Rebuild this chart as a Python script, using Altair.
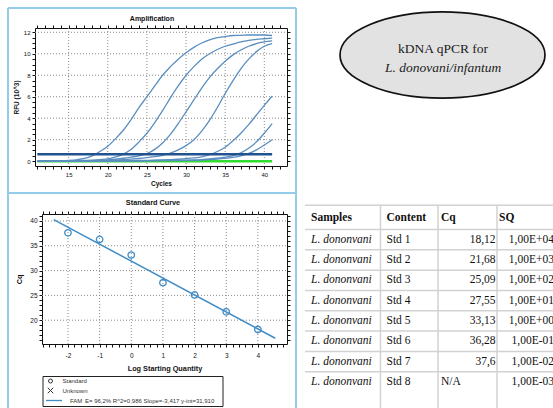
import altair as alt
import pandas as pd

W, H = 553, 408

# ---------------- data ----------------
cycles = list(range(11, 42))
rfu_std1 = [0.0, 0.0, 0.02, 0.04, 0.07, 0.13, 0.25, 0.5, 0.9, 1.4, 2.1, 2.9, 3.9, 5.0, 6.0, 7.0,
            8.0, 8.8, 9.5, 10.1, 10.6, 11.0, 11.3, 11.5, 11.6, 11.7, 11.72, 11.75, 11.75, 11.75, 11.7]
rfu_std2 = [0.0, 0.0, 0.0, 0.01, 0.02, 0.04, 0.07, 0.1, 0.15, 0.22, 0.4, 0.65, 1.1, 1.8, 2.6, 3.6,
            4.7, 5.9, 7.0, 8.0, 8.8, 9.5, 10.0, 10.4, 10.7, 10.9, 11.1, 11.25, 11.35, 11.4, 11.45]
rfu_std3 = [0.0, 0.0, 0.0, 0.0, 0.01, 0.02, 0.03, 0.05, 0.08, 0.12, 0.18, 0.27, 0.38, 0.5, 0.7, 1.1,
            1.7, 2.5, 3.5, 4.6, 5.7, 6.8, 7.8, 8.6, 9.3, 9.9, 10.35, 10.7, 10.95, 11.1, 11.2]
rfu_std4 = [0.0, 0.0, 0.0, 0.0, 0.0, 0.01, 0.02, 0.03, 0.05, 0.07, 0.1, 0.14, 0.19, 0.25, 0.33, 0.42,
            0.55, 0.75, 1.05, 1.45, 2.0, 2.8, 3.8, 5.0, 6.3, 7.5, 8.6, 9.5, 10.2, 10.7, 10.95]
rfu_std5 = [0.0, 0.0, 0.0, 0.0, 0.0, 0.0, 0.0, 0.01, 0.02, 0.03, 0.03, 0.04, 0.05, 0.06, 0.07, 0.09,
            0.11, 0.14, 0.18, 0.23, 0.3, 0.4, 0.6, 0.9, 1.3, 1.9, 2.6, 3.4, 4.3, 5.2, 6.05]
rfu_std6 = [0.0, 0.0, 0.0, 0.0, 0.0, 0.0, 0.0, 0.0, 0.01, 0.01, 0.02, 0.02, 0.03, 0.04, 0.05, 0.06,
            0.07, 0.08, 0.09, 0.1, 0.12, 0.15, 0.2, 0.27, 0.37, 0.52, 0.78, 1.2, 1.8, 2.6, 3.5]
rfu_std7 = [0.0, 0.0, 0.0, 0.0, 0.0, 0.0, 0.0, 0.0, 0.0, 0.01, 0.01, 0.02, 0.02, 0.03, 0.03, 0.04,
            0.05, 0.05, 0.06, 0.07, 0.08, 0.1, 0.14, 0.19, 0.26, 0.36, 0.5, 0.72, 1.05, 1.5, 2.0]
curve_names = ["Std 1", "Std 2", "Std 3", "Std 4", "Std 5", "Std 6", "Std 7"]
curve_values = [rfu_std1, rfu_std2, rfu_std3, rfu_std4, rfu_std5, rfu_std6, rfu_std7]

threshold_cycles = [11, 41]
threshold_rfu = [0.65, 0.65]
ntc_cycles = [11, 41]
ntc_rfu = [0.0, 0.0]

amp_x_ticks = [15, 20, 25, 30, 35, 40]
amp_y_ticks = [0, 2, 4, 6, 8, 10, 12]
amp_minor_x = list(range(11, 43))
amp_minor_y = [i / 2 for i in range(0, 25)]

log_sq = [4, 3, 2, 1, 0, -1, -2]
cq_std = [18.12, 21.68, 25.09, 27.55, 33.13, 36.28, 37.6]
fit_log = [-2.45, 4.55]
fit_cq = [40.28, 16.36]
std_x_ticks = [-2, -1, 0, 1, 2, 3, 4]
std_y_ticks = [20, 25, 30, 35, 40]
std_minor_x = [round(-2.8 + 0.2 * i, 1) for i in range(39)]
std_minor_y = list(range(16, 42))
legend_text = "E= 96,2% R^2=0,986 Slope=-3,417 y-int=31,910"

table_headers = ["Samples", "Content", "Cq", "SQ"]
table_samples = ["L. dononvani"] * 8
table_contents = ["Std 1", "Std 2", "Std 3", "Std 4", "Std 5", "Std 6", "Std 7", "Std 8"]
table_cq = ["18,12", "21,68", "25,09", "27,55", "33,13", "36,28", "37,6", "N/A"]
table_sq = ["1,00E+04", "1,00E+03", "1,00E+02", "1,00E+01", "1,00E+00", "1,00E-01", "1,00E-02", "1,00E-03"]

# ---------------- layout / style ----------------
AMP_X = ([10.7, 42.9], [35, 287])
AMP_Y = ([-0.45, 12.4], [166, 28])
STD_X = ([-2.82, 4.92], [42, 287])
STD_Y = ([15.2, 41.4], [344, 214])
TAB_Y = ([0, 8], [229.5, 392])

FRAME = "#93cbe9"
CURVE = "#5a8ec0"
THRESH = "#22528f"
STDBLUE = "#3f8cc6"
GRID = "#8a8a8a"
SANS = "Liberation Sans"
SERIF = "Liberation Serif"


def S(domain, rng):
    return alt.Scale(domain=domain, range=rng, nice=False, zero=False)


def axis(orient, offset, values, label_expr=None, title=None, size=6.5, title_size=7,
         label_pad=2, title_pad=3):
    kw = dict(orient=orient, offset=offset, values=values, domainColor="#111", domainWidth=1,
              tickColor="#111", tickSize=3, tickWidth=1, labelFont=SANS, labelColor="#111",
              labelOverlap=False, labelFlush=False, grid=False, labelFontSize=size,
              labelPadding=label_pad)
    if label_expr is None:
        kw["labels"] = False
    else:
        kw["labelExpr"] = label_expr
    if title:
        kw.update(title=title, titleFont=SANS, titleFontSize=title_size, titleFontWeight="bold",
                  titleColor="#111", titlePadding=title_pad)
    else:
        kw["title"] = None
    return alt.Axis(**kw)


def one(text):
    return pd.DataFrame({"t": [text]})


layers = []

# blue panel frames
for (x1, x2, y1, y2) in [(8, 296, 8, 8), (8, 296, 193, 193), (8, 8, 8, 410), (296, 296, 8, 410)]:
    layers.append(alt.Chart(one("f")).mark_rule(color=FRAME, strokeWidth=2).encode(
        x=alt.value(x1), x2=alt.value(x2), y=alt.value(y1), y2=alt.value(y2)))

# ---------- amplification ----------
amp_df = pd.DataFrame({
    "cycle": cycles * len(curve_names),
    "rfu": [v for vals in curve_values for v in vals],
    "sample": [n for n in curve_names for _ in cycles],
})

layers.append(alt.Chart(pd.DataFrame({"c": amp_x_ticks})).mark_rule(
    color=GRID, strokeDash=[1, 2], strokeWidth=1).encode(
    x=alt.X("c:Q", scale=S(*AMP_X),
            axis=axis("bottom", AMP_Y[1][0] - H, amp_minor_x,
                      "datum.value % 5 === 0 ? '' + datum.value : ''", "Cycles", 6, 6.5, 2, 3)),
    y=alt.YDatum(AMP_Y[0][1], type="quantitative", scale=S(*AMP_Y),
                 axis=axis("left", -AMP_X[1][0], amp_minor_y,
                           "datum.value % 2 === 0 ? '' + datum.value : ''", "RFU (10^3)", 6, 6.5, 2, 4)),
    y2=alt.Y2Datum(AMP_Y[0][0]),
))
layers.append(alt.Chart(pd.DataFrame({"r": amp_y_ticks[1:]})).mark_rule(
    color=GRID, strokeDash=[1, 2], strokeWidth=1).encode(
    y=alt.Y("r:Q", scale=S(*AMP_Y), axis=axis("right", AMP_X[1][1] - W, amp_minor_y)),
    x=alt.XDatum(AMP_X[0][0], type="quantitative", scale=S(*AMP_X),
                 axis=axis("top", -AMP_Y[1][1], amp_minor_x)),
    x2=alt.X2Datum(AMP_X[0][1]),
))
layers.append(alt.Chart(pd.DataFrame({"cycle": ntc_cycles, "rfu": ntc_rfu})).mark_line(
    color="#2fdc2f", strokeWidth=2.5).encode(
    x=alt.X("cycle:Q", scale=S(*AMP_X), axis=None),
    y=alt.Y("rfu:Q", scale=S(*AMP_Y), axis=None)))
layers.append(alt.Chart(amp_df).mark_line(color=CURVE, strokeWidth=1.3, interpolate="monotone").encode(
    x=alt.X("cycle:Q", scale=S(*AMP_X), axis=None),
    y=alt.Y("rfu:Q", scale=S(*AMP_Y), axis=None),
    detail="sample:N"))
layers.append(alt.Chart(pd.DataFrame({"cycle": threshold_cycles, "rfu": threshold_rfu})).mark_line(
    color=THRESH, strokeWidth=2.4).encode(
    x=alt.X("cycle:Q", scale=S(*AMP_X), axis=None),
    y=alt.Y("rfu:Q", scale=S(*AMP_Y), axis=None)))
layers.append(alt.Chart(one("Amplification")).mark_text(
    font=SANS, fontSize=7, fontWeight="bold", color="#111").encode(
    x=alt.value(152), y=alt.value(19), text="t:N"))

# ---------- standard curve ----------
layers.append(alt.Chart(pd.DataFrame({"c": std_x_ticks})).mark_rule(
    color=GRID, strokeDash=[1, 2], strokeWidth=1).encode(
    x=alt.X("c:Q", scale=S(*STD_X),
            axis=axis("bottom", STD_Y[1][0] - H, std_minor_x,
                      "abs(datum.value - round(datum.value)) < 0.001 ? '' + round(datum.value) : ''",
                      "Log Starting Quantity", 6.5, 7.3, 5, 6)),
    y=alt.YDatum(STD_Y[0][1], type="quantitative", scale=S(*STD_Y),
                 axis=axis("left", -STD_X[1][0], std_minor_y,
                           "datum.value % 5 === 0 ? '' + datum.value : ''", "Cq", 6.5, 7.3, 2, 6)),
    y2=alt.Y2Datum(STD_Y[0][0]),
))
layers.append(alt.Chart(pd.DataFrame({"r": std_y_ticks})).mark_rule(
    color=GRID, strokeDash=[1, 2], strokeWidth=1).encode(
    y=alt.Y("r:Q", scale=S(*STD_Y), axis=axis("right", STD_X[1][1] - W, std_minor_y)),
    x=alt.XDatum(STD_X[0][0], type="quantitative", scale=S(*STD_X),
                 axis=axis("top", -STD_Y[1][1], std_minor_x)),
    x2=alt.X2Datum(STD_X[0][1]),
))
layers.append(alt.Chart(pd.DataFrame({"lx": fit_log, "cq": fit_cq})).mark_line(
    color=STDBLUE, strokeWidth=1.5).encode(
    x=alt.X("lx:Q", scale=S(*STD_X), axis=None),
    y=alt.Y("cq:Q", scale=S(*STD_Y), axis=None)))
layers.append(alt.Chart(pd.DataFrame({"lx": log_sq, "cq": cq_std})).mark_point(
    shape="circle", size=42, filled=False, color=STDBLUE, strokeWidth=1.3, opacity=1).encode(
    x=alt.X("lx:Q", scale=S(*STD_X), axis=None),
    y=alt.Y("cq:Q", scale=S(*STD_Y), axis=None)))
layers.append(alt.Chart(one("Standard Curve")).mark_text(
    font=SANS, fontSize=7.3, fontWeight="bold", color="#111").encode(
    x=alt.value(153), y=alt.value(203), text="t:N"))

# legend box
layers.append(alt.Chart(one("box")).mark_rect(fill="white", stroke="#222", strokeWidth=1).encode(
    x=alt.value(43), x2=alt.value(223), y=alt.value(376.5), y2=alt.value(406.5)))
layers.append(alt.Chart(one("o")).mark_point(shape="circle", size=16, filled=False, color="#333",
                                             strokeWidth=1, opacity=1).encode(
    x=alt.value(50.5), y=alt.value(381)))
layers.append(alt.Chart(one("x")).mark_point(shape="M -1 -1 L 1 1 M -1 1 L 1 -1", size=30, filled=False,
                                             color="#333", strokeWidth=1, opacity=1).encode(
    x=alt.value(50.5), y=alt.value(390.5)))
layers.append(alt.Chart(one("l")).mark_rule(color=STDBLUE, strokeWidth=1.3).encode(
    x=alt.value(46), x2=alt.value(62), y=alt.value(400.5)))
for txt, xx, yy in [("Standard", 62.5, 381), ("Unknown", 62.5, 390.5), ("FAM", 70, 400.5),
                    (legend_text, 85, 400.5)]:
    layers.append(alt.Chart(one(txt)).mark_text(font=SANS, fontSize=6, align="left", color="#333").encode(
        x=alt.value(xx), y=alt.value(yy), text="t:N"))

# ---------- table ----------
LINE = "#d2d2d2"
layers.append(alt.Chart(pd.DataFrame({"b": [-1.2, 0, 1, 2, 3, 4, 5, 6, 7]})).mark_rule(
    color=LINE, strokeWidth=1.5).encode(
    y=alt.Y("b:Q", scale=S(*TAB_Y), axis=None), x=alt.value(305), x2=alt.value(W)))
for vx in [380.5, 438, 497]:
    layers.append(alt.Chart(one("v")).mark_rule(color=LINE, strokeWidth=1.5).encode(
        x=alt.value(vx),
        y=alt.YDatum(-1.2, type="quantitative", scale=S(*TAB_Y), axis=None),
        y2=alt.Y2Datum(9)))
for hdr, hx in zip(table_headers, [311, 386.5, 441, 499]):
    layers.append(alt.Chart(one(hdr)).mark_text(font=SERIF, fontSize=11.5, fontWeight="bold",
                                                align="left", color="#111").encode(
        x=alt.value(hx), y=alt.YDatum(-0.57, type="quantitative", scale=S(*TAB_Y), axis=None),
        text="t:N"))

tab = pd.DataFrame({"row": list(range(8)), "sample": table_samples, "content": table_contents,
                    "cq": table_cq, "sq": table_sq})
base = alt.Chart(tab).transform_calculate(yc="datum.row + 0.5")
ypos = alt.Y("yc:Q", scale=S(*TAB_Y), axis=None)
layers.append(base.mark_text(font=SERIF, fontSize=11.5, fontStyle="italic", align="left",
                             color="#111").encode(x=alt.value(311), y=ypos, text="sample:N"))
layers.append(base.mark_text(font=SERIF, fontSize=11.5, align="left", color="#111").encode(
    x=alt.value(386.5), y=ypos, text="content:N"))
layers.append(base.transform_filter("datum.cq !== 'N/A'").mark_text(
    font=SERIF, fontSize=11.5, align="right", color="#111").encode(
    x=alt.value(495.5), y=ypos, text="cq:N"))
layers.append(base.transform_filter("datum.cq === 'N/A'").mark_text(
    font=SERIF, fontSize=11.5, align="left", color="#111").encode(
    x=alt.value(441), y=ypos, text="cq:N"))
layers.append(base.mark_text(font=SERIF, fontSize=11.5, align="right", color="#111").encode(
    x=alt.value(554), y=ypos, text="sq:N"))

# ---------- title ellipse ----------
ELLIPSE = "M -1 0 A 1 0.42 0 1 1 1 0 A 1 0.42 0 1 1 -1 0 Z"
layers.append(alt.Chart(one("e")).mark_point(shape=ELLIPSE, size=205 * 205, filled=True,
                                             fill="#e2e2e2", stroke="#111", strokeWidth=1.7,
                                             opacity=1).encode(
    x=alt.value(442.5), y=alt.value(55)))
layers.append(alt.Chart(one("kDNA qPCR for")).mark_text(font=SERIF, fontSize=13.5, color="#222").encode(
    x=alt.value(443), y=alt.value(49), text="t:N"))
layers.append(alt.Chart(one("L. donovani/infantum")).mark_text(font=SERIF, fontSize=13.5,
                                                               fontStyle="italic", color="#222").encode(
    x=alt.value(443), y=alt.value(68), text="t:N"))

chart = alt.layer(*layers).resolve_scale(x="independent", y="independent").resolve_axis(
    x="independent", y="independent").properties(
    width=W, height=H, autosize=alt.AutoSizeParams(type="none"), padding=0,
    background="white").configure_view(stroke=None)

chart.save("out.html", embed_options={"renderer": "svg", "actions": False})
